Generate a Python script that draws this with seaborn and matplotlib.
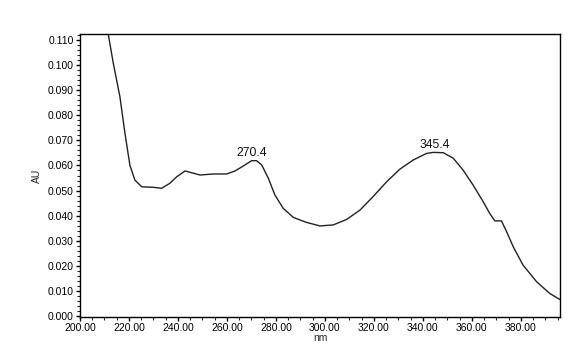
import matplotlib
matplotlib.use("Agg")
import matplotlib.pyplot as plt
import seaborn as sns
import pandas as pd
from matplotlib.ticker import MultipleLocator, FormatStrFormatter

wavelength = [210.5, 211.6, 213.6, 216.3, 218.4, 220.4, 222.4, 225.2, 229.9, 233.3,
              236.7, 239.5, 242.9, 245.6, 249.0, 254.4, 259.9, 263.3, 266.7, 270.1,
              272.1, 274.2, 276.9, 279.6, 283.0, 287.1, 292.5, 298.0, 303.4, 308.9,
              314.3, 319.7, 325.2, 330.6, 336.1, 341.5, 344.2, 348.3, 352.4, 356.4,
              360.5, 364.6, 367.3, 369.4, 372.1, 374.2, 376.9, 380.9, 386.4, 391.8,
              395.9]
absorbance = [0.1165, 0.1120, 0.1007, 0.0874, 0.0725, 0.0600, 0.0542, 0.0515, 0.0513, 0.0509,
              0.0529, 0.0555, 0.0578, 0.0571, 0.0562, 0.0566, 0.0566, 0.0578, 0.0598, 0.0619,
              0.0619, 0.0602, 0.0549, 0.0482, 0.0429, 0.0393, 0.0373, 0.0359, 0.0363, 0.0385,
              0.0422, 0.0476, 0.0535, 0.0585, 0.0622, 0.0648, 0.0652, 0.0651, 0.0629, 0.0582,
              0.0522, 0.0456, 0.0409, 0.0379, 0.0379, 0.0336, 0.0276, 0.0203, 0.0137, 0.0090,
              0.0066]
peak_labels = ["270.4", "345.4"]
peak_x = [270.1, 344.9]
peak_y = [0.0648, 0.0680]

df = pd.DataFrame({"nm": wavelength, "AU": absorbance})

sns.set_style("ticks")
plt.rcParams['font.family'] = ['Liberation Sans', 'DejaVu Sans']

fig = plt.figure(figsize=(5.72, 3.5), dpi=100)
ax = fig.add_axes([80/572, 33/350, 480/572, 283/350])
sns.lineplot(data=df, x="nm", y="AU", ax=ax, color="#222222", linewidth=1.0)

ax.set_xlim(200, 396)
ax.set_ylim(-0.0004, 0.1124)
ax.xaxis.set_major_locator(MultipleLocator(20))
ax.xaxis.set_minor_locator(MultipleLocator(5))
ax.yaxis.set_major_locator(MultipleLocator(0.01))
ax.yaxis.set_minor_locator(MultipleLocator(0.002))
ax.xaxis.set_major_formatter(FormatStrFormatter("%.2f"))
ax.yaxis.set_major_formatter(FormatStrFormatter("%.3f"))
ax.tick_params(axis="both", which="major", direction="out", length=3, width=1,
               labelsize=7.5, pad=1.5, colors="black")
ax.tick_params(axis="both", which="minor", direction="out", length=2, width=0.8)
for s in ax.spines.values():
    s.set_visible(True)
    s.set_color("black")
    s.set_linewidth(1.0)

ax.set_xlabel("nm", fontsize=7.5, labelpad=0)
ax.set_ylabel("AU", fontsize=7.5, labelpad=4)

for lab, x, y in zip(peak_labels, peak_x, peak_y):
    ax.text(x, y, lab, ha="center", va="center", fontsize=8.7, color="#111111")

fig.savefig("out.png", dpi=100, facecolor="white")
